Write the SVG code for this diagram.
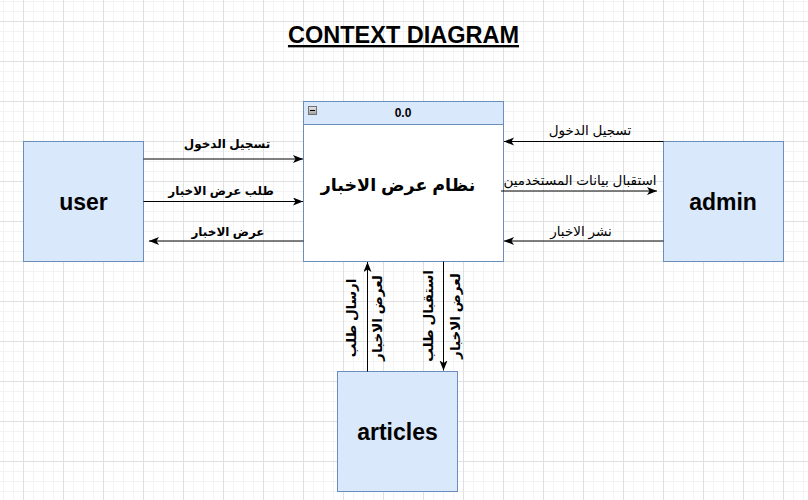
<svg xmlns="http://www.w3.org/2000/svg" width="808" height="500" viewBox="0 0 808 500">
<style>
.box{fill:#dae8fc;stroke:#6c8ebf;stroke-width:1}
.ent{font-family:"Liberation Sans",Arial,sans-serif;font-weight:bold;font-size:23px;fill:#000;text-anchor:middle}
.lbl{font-family:"Liberation Sans","DejaVu Sans",Arial,sans-serif;font-size:12px;fill:#000;text-anchor:middle}
.r{font-size:13.5px}
.v{font-size:13.5px}
.b{font-weight:bold}
.con{stroke:#000;stroke-width:1;fill:none;marker-end:url(#arr)}
</style>
<defs>
<pattern id="grid" x="23" y="21" width="40" height="40" patternUnits="userSpaceOnUse">
<path d="M10.5 0V40M20.5 0V40M30.5 0V40M0 10.5H40M0 20.5H40M0 30.5H40" stroke="#f3f3f3" stroke-width="1"/>
<path d="M0.5 0V40M0 0.5H40" stroke="#e0e0e0" stroke-width="1"/>
</pattern>
<marker id="arr" markerWidth="12" markerHeight="10" refX="10" refY="4" orient="auto" markerUnits="userSpaceOnUse">
<path d="M0,0 L10,4 L0,8 L2.5,4 Z" fill="#000"/>
</marker>
<linearGradient id="ig" x1="0" y1="0" x2="0" y2="1">
<stop offset="0" stop-color="#e8e8e8"/><stop offset="1" stop-color="#a0a0a0"/>
</linearGradient>
</defs>
<rect width="808" height="500" fill="#fff"/>
<rect width="808" height="500" fill="url(#grid)"/>

<g id="title">
<text x="403.5" y="43" font-family="'Liberation Sans',Arial,sans-serif" font-weight="bold" font-size="23.5" text-anchor="middle" text-decoration="underline">CONTEXT DIAGRAM</text>
</g>

<g id="process">
<rect x="303.5" y="101.5" width="200" height="160" fill="#fff" stroke="#6c8ebf"/>
<rect x="303.5" y="101.5" width="200" height="23" fill="#dae8fc" stroke="#6c8ebf"/>
<rect x="308.5" y="106.5" width="8" height="8" fill="url(#ig)" stroke="#707070"/>
<line x1="310" y1="110.5" x2="315" y2="110.5" stroke="#000"/>
<text x="403" y="117" font-family="'Liberation Sans',Arial,sans-serif" font-weight="bold" font-size="12" text-anchor="middle">0.0</text>
<text x="398" y="191" font-family="'Liberation Sans','DejaVu Sans',Arial,sans-serif" font-weight="bold" font-size="17.5" text-anchor="middle">نظام عرض الاخبار</text>
</g>

<g id="user">
<rect class="box" x="23.5" y="141.5" width="120" height="120"/>
<text class="ent" x="83.5" y="209.5">user</text>
</g>
<g id="admin">
<rect class="box" x="663.5" y="141.5" width="120" height="120"/>
<text class="ent" x="723" y="209.5">admin</text>
</g>
<g id="articles">
<rect class="box" x="337.5" y="371.5" width="120" height="120"/>
<text class="ent" x="397.5" y="439.5">articles</text>
</g>

<g id="connectors">
<line class="con" x1="143.5" y1="159" x2="303" y2="159"/>
<line class="con" x1="143.5" y1="201.5" x2="303" y2="201.5"/>
<line class="con" x1="303.5" y1="241" x2="149" y2="241"/>
<line class="con" x1="663.5" y1="141.5" x2="504" y2="141.5"/>
<line class="con" x1="501" y1="191" x2="657" y2="191"/>
<line class="con" x1="663.5" y1="241" x2="504" y2="241"/>
<line class="con" x1="367.5" y1="371.5" x2="367.5" y2="262"/>
<line class="con" x1="443.5" y1="261.5" x2="443.5" y2="370.5"/>

<text class="lbl b" x="227" y="148">تسجيل الدخول</text>
<text class="lbl b" x="221" y="195">طلب عرض الاخبار</text>
<text class="lbl b" x="228" y="236">عرض الاخبار</text>

<text class="lbl r" x="590" y="135">تسجيل الدخول</text>
<text class="lbl r" x="580" y="185">استقبال بيانات المستخدمين</text>
<text class="lbl r" x="581" y="236">نشر الاخبار</text>

<text class="lbl v b" transform="translate(351.5,318) rotate(-90)" y="4.5">ارسال طلب</text>
<text class="lbl v b" transform="translate(377,318) rotate(-90)" y="4.5">لعرض الاخبار</text>
<text class="lbl v b" transform="translate(428,316) rotate(-90)" y="4.5">استقبال طلب</text>
<text class="lbl v b" transform="translate(455,316) rotate(-90)" y="4.5">لعرض الاخبار</text>
</g>
</svg>
